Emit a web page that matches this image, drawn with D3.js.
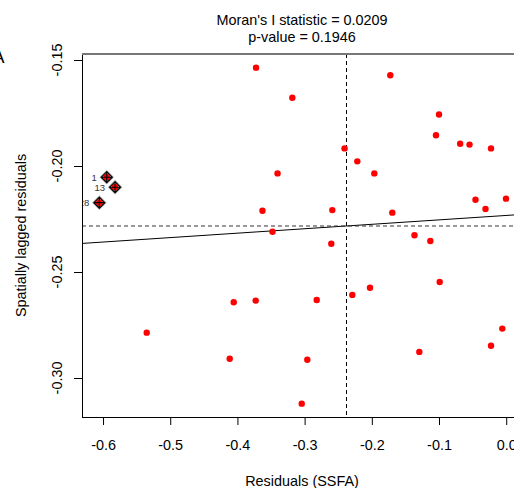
<!DOCTYPE html>
<html>
<head>
<meta charset="utf-8">
<script src="https://cdn.jsdelivr.net/npm/d3@7"></script>
<style>
body { margin: 0; background: #fff; }
svg text { font-family: "Liberation Sans", Arial, sans-serif; }
</style>
</head>
<body>
<svg width="514" height="488"></svg>
<script>
// residuals and their spatial lags
var resid = [-0.3723, -0.3183, -0.1725, -0.1000, -0.1045, -0.0685, -0.0546, -0.0226,
             -0.2406, -0.2216, -0.1963, -0.3403, -0.3627, -0.2588, -0.1695, -0.0457,
             -0.0308, -0.0003, -0.3478, -0.1365, -0.1129, -0.2603, -0.4055, -0.3728,
             -0.2820, -0.2290, -0.2027, -0.0990, -0.5350, -0.0058, -0.0226, -0.1293,
             -0.4115, -0.2960, -0.3043];
var lagged = [-0.1536, -0.1678, -0.1572, -0.1757, -0.1855, -0.1895, -0.1899, -0.1917,
              -0.1917, -0.1978, -0.2035, -0.2035, -0.2211, -0.2208, -0.2220, -0.2159,
              -0.2203, -0.2154, -0.2310, -0.2327, -0.2354, -0.2367, -0.2643, -0.2635,
              -0.2632, -0.2608, -0.2574, -0.2547, -0.2786, -0.2767, -0.2848, -0.2877,
              -0.2909, -0.2914, -0.3121];

// influential observations
var inflResid = [-0.5945, -0.5821, -0.6055];
var inflLagged = [-0.2053, -0.2100, -0.2173];
var inflLabels = ["1", "13", "28"];

var meanResid = -0.2379;
var meanLagged = -0.2283;
var moranI = 0.0209;
var pValue = 0.1946;

var xTicks = [-0.6, -0.5, -0.4, -0.3, -0.2, -0.1, 0.0];
var yTicks = [-0.15, -0.20, -0.25, -0.30];

var svg = d3.select("svg");
// plot box ("top" is taken by window.top, so use other names)
var pLeft = 82, pRight = 522, pTop = 54, pBottom = 417;

var x = d3.scaleLinear().domain([-0.6313, 0.0235]).range([pLeft, pRight]);
var y = d3.scaleLinear().domain([-0.3184, -0.14717]).range([pBottom, pTop]);

svg.append("clipPath").attr("id", "plotclip")
	.append("rect")
	.attr("x", pLeft).attr("y", pTop)
	.attr("width", pRight - pLeft).attr("height", pBottom - pTop);

// panel letter, mostly cut off
svg.append("text")
	.attr("x", 4.5).attr("y", 62.7)
	.attr("text-anchor", "end")
	.style("font-size", "18px")
	.text("A");

// title
svg.append("text")
	.attr("x", 302).attr("y", 25)
	.attr("text-anchor", "middle")
	.style("font-size", "14.4px")
	.text("Moran's I statistic = " + moranI.toFixed(4));
svg.append("text")
	.attr("x", 302).attr("y", 41.7)
	.attr("text-anchor", "middle")
	.style("font-size", "14.4px")
	.text("p-value = " + pValue.toFixed(4));

// x axis
var xAxis = d3.axisBottom(x)
	.tickValues(xTicks)
	.tickSize(8)
	.tickSizeOuter(0)
	.tickPadding(15)
	.tickFormat(function(d){return d === 0 ? "0.0" : d3.format(".1f")(d).replace("\u2212", "-");});

var gx = svg.append("g")
	.attr("transform", "translate(0," + pBottom + ")")
	.call(xAxis);
gx.select(".domain").remove();
gx.selectAll("text").style("font-size", "14.4px").attr("fill", "#000")
	.style("font-family", "\"Liberation Sans\", Arial, sans-serif");
gx.selectAll("line").attr("stroke", "#000");

// y axis ticks with rotated labels
var gy = svg.append("g");
gy.selectAll("line").data(yTicks).enter().append("line")
	.attr("x1", pLeft - 8).attr("x2", pLeft)
	.attr("y1", function(d){return Math.round(y(d)) + 0.5;})
	.attr("y2", function(d){return Math.round(y(d)) + 0.5;})
	.attr("stroke", "#000");
gy.selectAll("text").data(yTicks).enter().append("text")
	.attr("transform", function(d){return "translate(62," + y(d) + ") rotate(-90)";})
	.attr("text-anchor", "middle")
	.style("font-size", "14.4px")
	.text(function(d){return d3.format(".2f")(d).replace("\u2212", "-");});

// axis titles
svg.append("text")
	.attr("x", 302).attr("y", 486)
	.attr("text-anchor", "middle")
	.style("font-size", "14.4px")
	.text("Residuals (SSFA)");
svg.append("text")
	.attr("transform", "translate(26," + (pTop + pBottom) / 2 + ") rotate(-90)")
	.attr("text-anchor", "middle")
	.style("font-size", "14.4px")
	.text("Spatially lagged residuals");

// plot contents
var plot = svg.append("g").attr("clip-path", "url(#plotclip)");

// regression line
var xd = x.domain();
plot.append("line")
	.attr("x1", x(xd[0])).attr("x2", x(xd[1]))
	.attr("y1", y(meanLagged + moranI * (xd[0] - meanResid)))
	.attr("y2", y(meanLagged + moranI * (xd[1] - meanResid)))
	.attr("stroke", "#000").attr("stroke-width", 1);

// mean lines
plot.append("line")
	.attr("x1", pLeft).attr("x2", pRight)
	.attr("y1", y(meanLagged)).attr("y2", y(meanLagged))
	.attr("stroke", "#333").attr("stroke-dasharray", "4,3");
plot.append("line")
	.attr("x1", Math.round(x(meanResid)) + 0.5).attr("x2", Math.round(x(meanResid)) + 0.5)
	.attr("y1", pTop).attr("y2", pBottom)
	.attr("stroke", "#000").attr("stroke-dasharray", "4,3");

// points
plot.selectAll("circle.pt").data(resid).enter().append("circle")
	.attr("class", "pt")
	.attr("cx", function(d){return x(d);})
	.attr("cy", function(d, i){return y(lagged[i]);})
	.attr("r", 3.2)
	.attr("fill", "#ff0000");

// influential points: red dot under a crossed diamond
var infl = plot.selectAll("g.infl").data(inflResid).enter().append("g")
	.attr("class", "infl")
	.attr("transform", function(d, i){return "translate(" + x(d) + "," + y(inflLagged[i]) + ")";});
infl.append("path")
	.attr("d", "M0,-5.5L5.5,0L0,5.5L-5.5,0Z")
	.attr("fill", "none").attr("stroke", "#aaa").attr("stroke-width", 2.6);
infl.append("circle").attr("r", 3.4).attr("fill", "#ff0000");
infl.append("path")
	.attr("d", "M0,-5.5L5.5,0L0,5.5L-5.5,0Z M0,-5.5V5.5 M-5.5,0H5.5")
	.attr("fill", "none").attr("stroke", "#000").attr("stroke-width", 1.1);
infl.append("text")
	.attr("x", -10).attr("dy", "0.35em")
	.attr("text-anchor", "end")
	.style("font-size", "9.5px")
	.attr("fill", "#333")
	.text(function(d, i){return inflLabels[i];});

// frame: left, bottom, top (right side falls outside the picture)
svg.append("line").attr("x1", pLeft + 0.5).attr("x2", pLeft + 0.5)
	.attr("y1", pTop).attr("y2", pBottom + 0.5).attr("stroke", "#000");
svg.append("line").attr("x1", pLeft).attr("x2", pRight)
	.attr("y1", pBottom + 0.5).attr("y2", pBottom + 0.5).attr("stroke", "#000");
svg.append("line").attr("x1", pLeft).attr("x2", pRight)
	.attr("y1", pTop).attr("y2", pTop).attr("stroke", "#777").attr("stroke-width", 2);
</script>
</body>
</html>
